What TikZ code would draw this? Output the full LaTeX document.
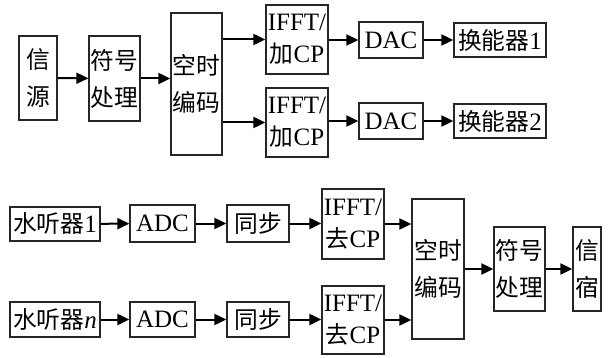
\documentclass[tikz,border=0pt]{standalone}
\usepackage{fontspec}
\setmainfont{Liberation Serif}
\newfontfamily\cjk{Noto Sans CJK SC}[Scale=0.95]
\usetikzlibrary{arrows.meta}
\tikzset{
  blk/.style={draw=black!85, line width=1.3pt, inner sep=0pt, align=center,
              font=\fontsize{25}{32}\selectfont},
  blkcjk/.style={blk, font=\fontsize{25}{37}\selectfont\cjk},
  flow/.style={line width=2pt, -{Triangle[length=12pt,width=11pt]}},
}
\begin{document}
\begin{tikzpicture}[x=1pt,y=-1pt]
\useasboundingbox (0,0) rectangle (615,358);

% transmitter chain
\node[blkcjk, minimum width=38pt, minimum height=84pt] (src) at (38,78) {信\\源};
\node[blkcjk, minimum width=51pt, minimum height=85pt] (sym) at (114.5,78.5) {符号\\处理};
\node[blkcjk, minimum width=51pt, minimum height=142pt] (stc) at (196.5,84) {空时\\编码};
\node[blk, minimum width=62pt, minimum height=69pt] (ifa) at (297,39.5) {IFFT/\\{\cjk 加}CP};
\node[blk, minimum width=62pt, minimum height=69pt] (ifb) at (297,122.5) {IFFT/\\{\cjk 加}CP};
\node[blk, minimum width=64pt, minimum height=36pt] (daca) at (391,40) {DAC};
\node[blk, minimum width=64pt, minimum height=36pt] (dacb) at (391,121) {DAC};
\node[blk, minimum width=92pt, minimum height=34pt] (tra) at (500,40) {{\cjk 换能器}1};
\node[blk, minimum width=92pt, minimum height=34pt] (trb) at (500,121) {{\cjk 换能器}2};

\draw[flow] (src) -- (sym);
\draw[flow] (sym) -- (sym -| stc.west);
\draw[flow] (stc.east |- ifa) -- (ifa.west);
\draw[flow] (stc.east |- ifb) -- (ifb.west);
\draw[flow] (ifa.east |- daca) -- (daca.west);
\draw[flow] (ifb.east |- dacb) -- (dacb.west);
\draw[flow] (daca) -- (tra);
\draw[flow] (dacb) -- (trb);

% receiver chain
\node[blk, minimum width=90pt, minimum height=34pt] (hya) at (55,224) {{\cjk 水听器}1};
\node[blk, minimum width=90pt, minimum height=35pt] (hyb) at (55,319.5) {{\cjk 水听器}\textit{n}};
\node[blk, minimum width=65pt, minimum height=37pt] (adca) at (162.5,223.5) {ADC};
\node[blk, minimum width=65pt, minimum height=35pt] (adcb) at (162.5,319.5) {ADC};
\node[blkcjk, minimum width=62pt, minimum height=37pt] (syna) at (258,223.5) {同步};
\node[blkcjk, minimum width=62pt, minimum height=35pt] (synb) at (258,319.5) {同步};
\node[blk, minimum width=62pt, minimum height=70pt] (rfa) at (353,224) {IFFT/\\{\cjk 去}CP};
\node[blk, minimum width=62pt, minimum height=68pt] (rfb) at (353,320) {IFFT/\\{\cjk 去}CP};
\node[blkcjk, minimum width=52pt, minimum height=140pt] (dec) at (438,269) {空时\\编码};
\node[blkcjk, minimum width=51pt, minimum height=84pt] (rsym) at (519.5,269) {符号\\处理};
\node[blkcjk, minimum width=28pt, minimum height=84pt] (snk) at (587,269) {信\\宿};

\draw[flow] (hya) -- (adca);
\draw[flow] (hyb) -- (adcb);
\draw[flow] (adca) -- (syna);
\draw[flow] (adcb) -- (synb);
\draw[flow] (syna) -- (syna -| rfa.west);
\draw[flow] (synb) -- (synb -| rfb.west);
\draw[flow] (rfa.east) -- (rfa.east -| dec.west);
\draw[flow] (rfb.east) -- (rfb.east -| dec.west);
\draw[flow] (dec) -- (rsym);
\draw[flow] (rsym) -- (snk);
\end{tikzpicture}
\end{document}
